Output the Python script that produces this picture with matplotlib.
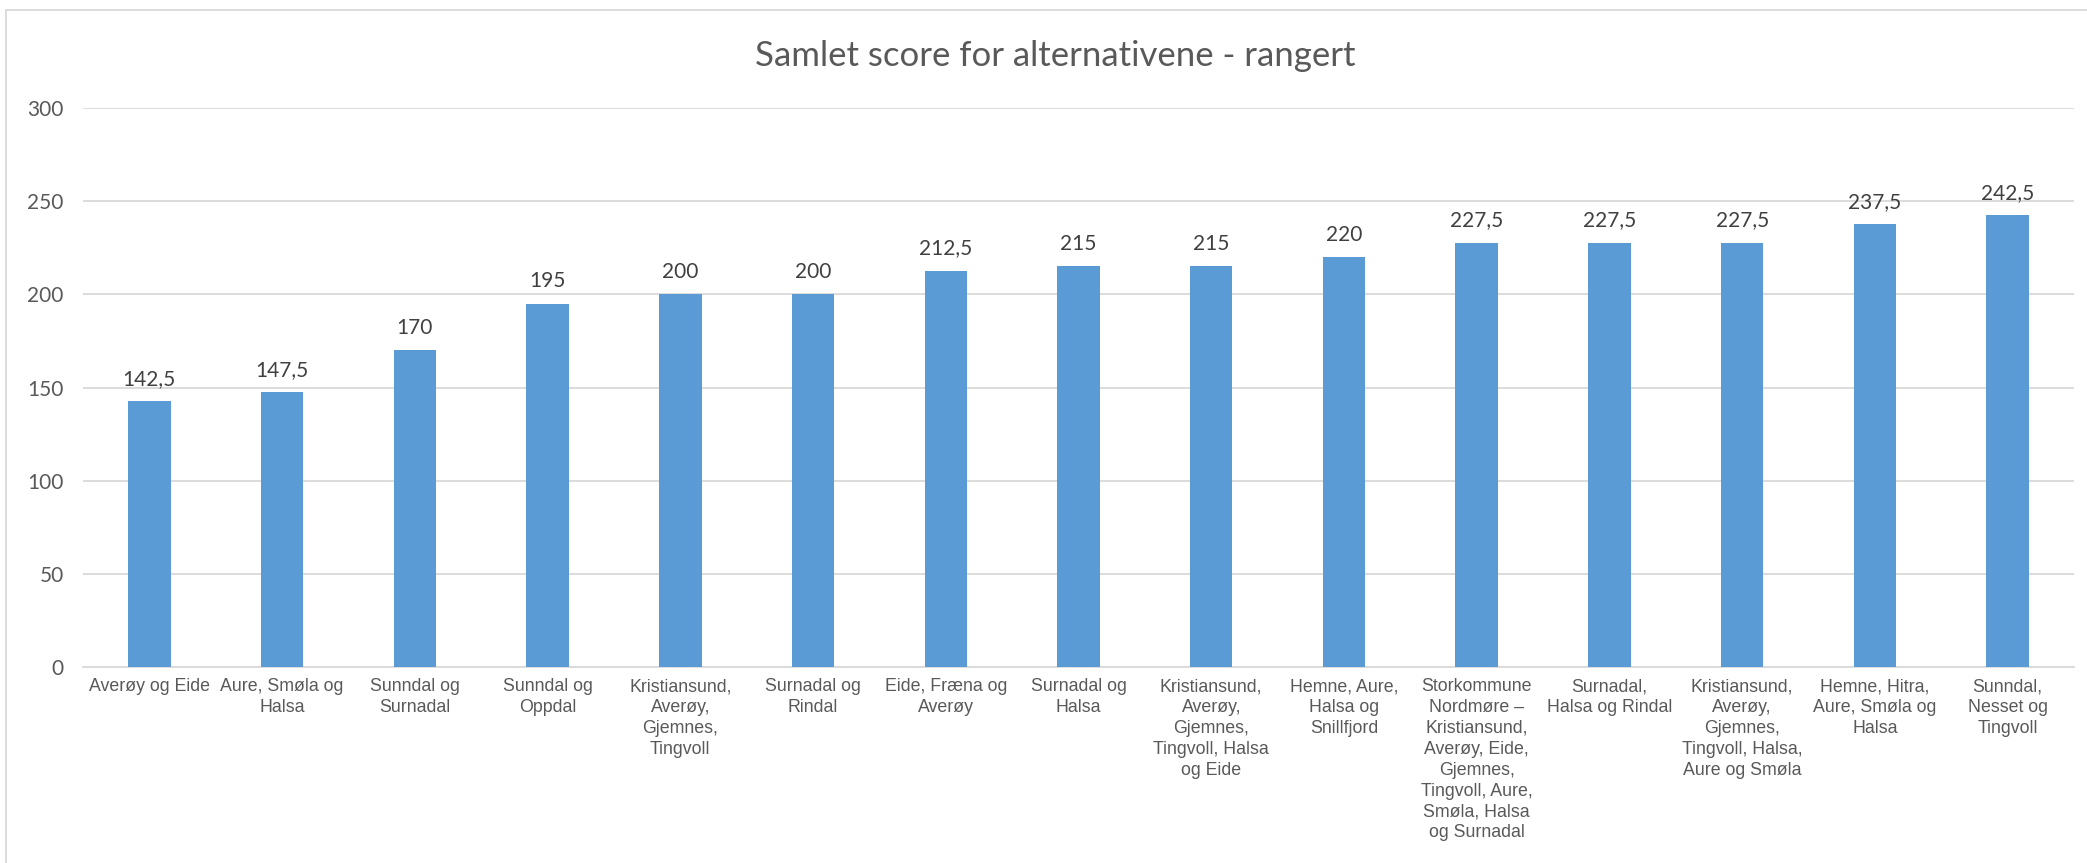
import matplotlib
matplotlib.use("Agg")
import matplotlib.pyplot as plt
from matplotlib.patches import Rectangle
from matplotlib import font_manager

categories = [
    "Averøy og Eide",
    "Aure, Smøla og\nHalsa",
    "Sunndal og\nSurnadal",
    "Sunndal og\nOppdal",
    "Kristiansund,\nAverøy,\nGjemnes,\nTingvoll",
    "Surnadal og\nRindal",
    "Eide, Fræna og\nAverøy",
    "Surnadal og\nHalsa",
    "Kristiansund,\nAverøy,\nGjemnes,\nTingvoll, Halsa\nog Eide",
    "Hemne, Aure,\nHalsa og\nSnillfjord",
    "Storkommune\nNordmøre –\nKristiansund,\nAverøy, Eide,\nGjemnes,\nTingvoll, Aure,\nSmøla, Halsa\nog Surnadal",
    "Surnadal,\nHalsa og Rindal",
    "Kristiansund,\nAverøy,\nGjemnes,\nTingvoll, Halsa,\nAure og Smøla",
    "Hemne, Hitra,\nAure, Smøla og\nHalsa",
    "Sunndal,\nNesset og\nTingvoll",
]
values = [142.5, 147.5, 170, 195, 200, 200, 212.5, 215, 215, 220, 227.5, 227.5, 227.5, 237.5, 242.5]
yticks = [0, 50, 100, 150, 200, 250, 300]
title = "Samlet score for alternativene - rangert"

names = {f.name for f in font_manager.fontManager.ttflist}
if "Liberation Sans Narrow" in names:
    cat_font, cat_size = "Liberation Sans Narrow", 15.2
else:
    cat_font, cat_size = "Liberation Sans", 12.8

W, H = 2087, 863
fig = plt.figure(figsize=(W / 100, H / 100), dpi=100)
ax = fig.add_axes([83 / W, 1 - 667 / H, (2074 - 83) / W, (667 - 108) / H])

x = list(range(len(categories)))
ax.bar(x, values, width=0.32, color="#5B9BD5", zorder=3)
ax.set_xlim(-0.5, len(categories) - 0.5)
ax.set_ylim(0, 300)
ax.set_yticks(yticks)
ax.set_yticklabels([str(t) for t in yticks], fontfamily="Lato", fontsize=15, color="#595959")
ax.tick_params(axis="y", length=0, pad=14)
ax.set_xticks(x)
ax.set_xticklabels(categories, fontfamily=cat_font, fontsize=cat_size, color="#595959",
                   linespacing=1.3, va="top", ha="center")
ax.tick_params(axis="x", length=0, pad=8)
ax.yaxis.grid(True, color="#D9D9D9", linewidth=1.3, zorder=0)
for s in ["left", "right", "top"]:
    ax.spines[s].set_visible(False)
ax.spines["bottom"].set_color("#D9D9D9")
ax.spines["bottom"].set_linewidth(1.3)

for xi, v in zip(x, values):
    lab = (f"{v:.1f}".replace(".", ",")) if v % 1 else f"{int(v)}"
    ax.annotate(lab, (xi, v), xytext=(0, 9), textcoords="offset points",
                ha="center", va="bottom", fontfamily="Lato", fontsize=15, color="#404040")

fig.text(1055 / W, 1 - 56 / H, title, ha="center", va="center", fontfamily="Lato",
         fontsize=25, color="#595959")

fig.patches.append(Rectangle((6 / W, -0.1), 1.2, (1 - 10 / H) + 0.1, transform=fig.transFigure,
                             fill=False, edgecolor="#D9D9D9", linewidth=1.3))

fig.savefig("out.png", dpi=100)
